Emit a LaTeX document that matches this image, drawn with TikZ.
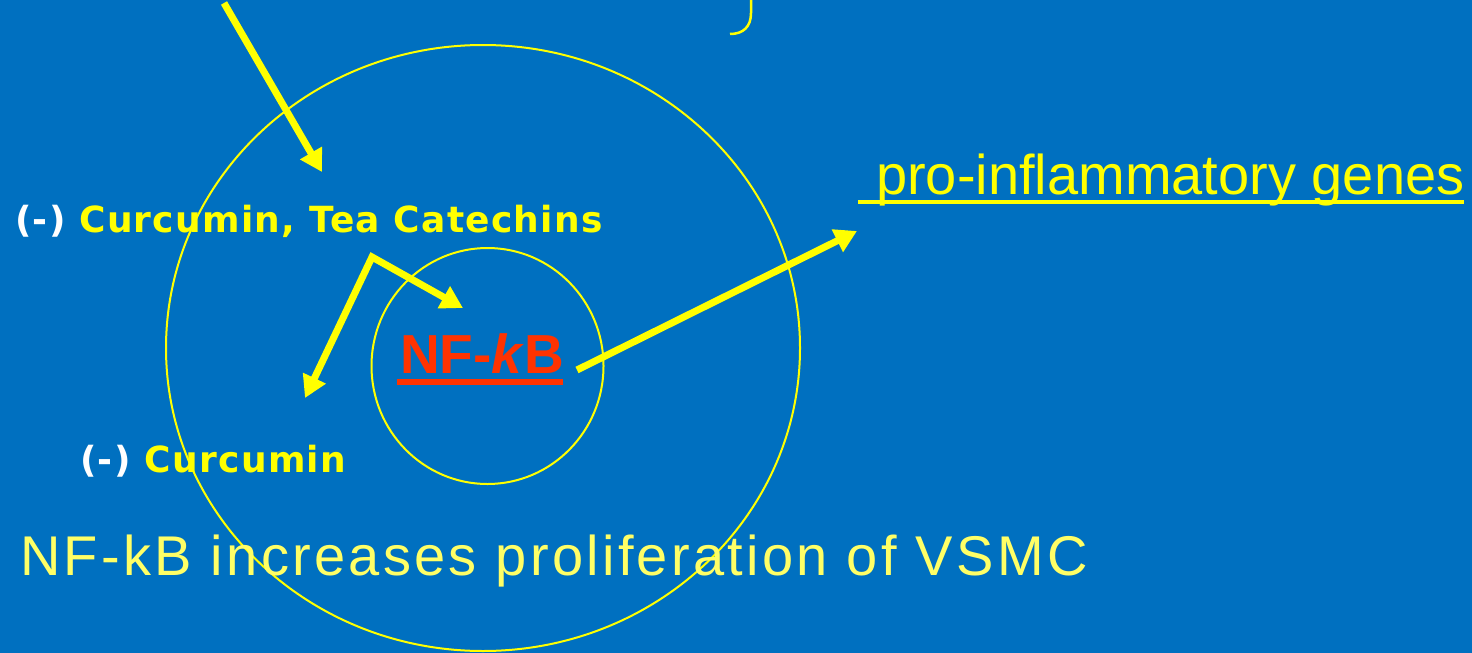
\documentclass[tikz,border=0pt]{standalone}
\usepackage{fontspec}
\setmainfont{Liberation Sans}
\newfontfamily\labelfont[LetterSpace=3.5]{DejaVu Sans}
\usetikzlibrary{arrows.meta}
\definecolor{bg}{HTML}{0070C0}
\definecolor{ylw}{HTML}{FFFF00}
\definecolor{lylw}{HTML}{FFFF66}
\definecolor{nfred}{HTML}{FF3300}
\begin{document}
\begin{tikzpicture}[x=1pt,y=-1pt,
  arr/.style={draw=ylw, line width=7pt, -{Triangle[length=22pt,width=24pt]}},
  lbl/.style={anchor=base west, inner sep=0pt, font=\labelfont\bfseries\fontsize{36}{40}\selectfont, text=ylw},
  ring/.style={draw=ylw, line width=2pt},
  big/.style={anchor=base west, inner sep=0pt}]
\fill[bg] (0,0) rectangle (1472,653);
\useasboundingbox (0,0) rectangle (1472,653);
% rings
\draw[ring] (483,348) ellipse [x radius=317pt, y radius=303pt];
\draw[ring] (487.5,366) ellipse [x radius=116pt, y radius=118pt];
% bracket end
\draw[ylw, line width=2.5pt] (751,-2) -- (751,13) .. controls (751,27) and (743,34) .. (730,34);
% labels
\node[lbl] (inhib1) at (15,232) {\textcolor{white}{(-)} Curcumin, Tea Catechins};
\node[lbl] (inhib2) at (80,472) {\textcolor{white}{(-)}\hspace{0.4em}Curcumin};
\node[big, text=nfred, font=\bfseries\fontsize{55}{60}\selectfont] (nfkb) at (400,373) {NF-\textit{k}B};
\fill[nfred] (397,379) rectangle (563,385);
\node[big, text=ylw, font=\fontsize{56}{60}\selectfont] (genes) at (876,194) {pro-inflammatory genes};
\fill[ylw] (858,200) rectangle (1464,204);
\node[big, text=lylw, font=\addfontfeature{LetterSpace=5.9}\fontsize{56}{60}\selectfont] (prolif) at (20,575) {NF-kB increases proliferation of VSMC};
% arrows
\coordinate (topstart) at (224,3);
\coordinate (toptip) at (322,172);
\coordinate (fork) at (372,257);
\coordinate (forkR) at (463,308);
\coordinate (forkL) at (305,398);
\coordinate (nfstart) at (577,370);
\coordinate (nftip) at (857,231);
\draw[arr] (topstart) -- (toptip);
\draw[arr, line join=miter, {Triangle[length=22pt,width=24pt]}-{Triangle[length=22pt,width=24pt]}] (forkL) -- (fork) -- (forkR);
\draw[arr] (nfstart) -- (nftip);
\end{tikzpicture}
\end{document}
